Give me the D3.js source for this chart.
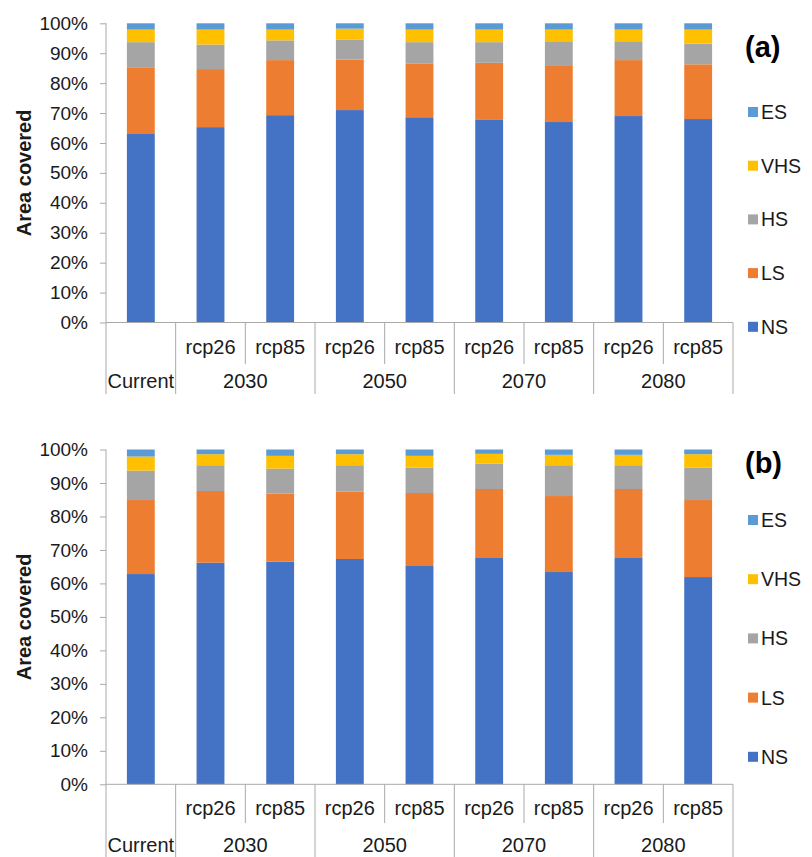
<!DOCTYPE html>
<html>
<head>
<meta charset="utf-8">
<script src="https://cdn.jsdelivr.net/npm/d3@7"></script>
<style>
  html, body { margin: 0; padding: 0; background: #fff; }
  svg { display: block; font-family: "Liberation Sans", Arial, sans-serif; }
</style>
</head>
<body>
<svg id="chart" width="812" height="857"></svg>
<script>
// ---- Data -------------------------------------------------------------
const seriesKeys   = ["NS", "LS", "HS", "VHS", "ES"];
const seriesColors = ["#4472C4", "#ED7D31", "#A5A5A5", "#FFC000", "#5B9BD5"];

// Category axis: inner scenario labels and outer period groups
const scenarioLabels = ["", "rcp26", "rcp85", "rcp26", "rcp85", "rcp26", "rcp85", "rcp26", "rcp85"];
const groupNames = ["Current", "2030", "2050", "2070", "2080"];
const groupSizes = [1, 2, 2, 2, 2];

const yTickValues = [0, 10, 20, 30, 40, 50, 60, 70, 80, 90, 100];

// Panel (a): share of area (%) per suitability class
const aNS  = [63.0, 65.3, 69.3, 71.0, 68.6, 67.9, 67.0, 69.0, 68.0];
const aLS  = [22.1, 19.4, 18.4, 16.9, 18.0, 18.9, 19.0, 18.7, 18.3];
const aHS  = [ 8.6,  8.2,  6.6,  6.7,  7.1,  6.9,  8.0,  6.3,  6.9];
const aVHS = [ 4.2,  5.0,  3.6,  3.6,  4.2,  4.2,  3.9,  3.9,  4.7];
const aES  = [ 2.1,  2.1,  2.1,  1.8,  2.1,  2.1,  2.1,  2.1,  2.1];

// Panel (b)
const bNS  = [62.8, 66.2, 66.5, 67.3, 65.2, 67.6, 63.4, 67.6, 61.9];
const bLS  = [22.1, 21.4, 20.3, 20.1, 21.8, 20.6, 22.7, 20.6, 23.0];
const bHS  = [ 8.8,  7.7,  7.5,  7.9,  7.6,  7.6,  9.2,  7.1,  9.7];
const bVHS = [ 4.2,  3.3,  3.8,  3.3,  3.5,  2.9,  3.1,  3.1,  4.0];
const bES  = [ 2.1,  1.4,  1.9,  1.4,  1.9,  1.3,  1.6,  1.6,  1.4];

// ---- Drawing ----------------------------------------------------------
const svg = d3.select("#chart");
const axisColor = "#a9a9a9";
const textColor = "#1a1a1a";

function buildRows(ns, ls, hs, vhs, es) {
  return ns.map((_, i) => ({ idx: i, NS: ns[i], LS: ls[i], HS: hs[i], VHS: vhs[i], ES: es[i] }));
}

function drawPanel(rows, cfg) {
  const g = svg.append("g");
  const x = d3.scaleBand()
    .domain(d3.range(rows.length))
    .range([cfg.left, cfg.right])
    .paddingInner(0.6)
    .paddingOuter(0.3);
  const y = d3.scaleLinear().domain([0, 100]).range([cfg.bottom, cfg.top]);

  // stacked bars
  const stacked = d3.stack().keys(seriesKeys)(rows);
  g.selectAll("g.series")
    .data(stacked)
    .join("g")
      .attr("class", "series")
      .attr("fill", (d, i) => seriesColors[i])
    .selectAll("rect")
    .data(d => d)
    .join("rect")
      .attr("x", d => x(d.data.idx))
      .attr("width", x.bandwidth())
      .attr("y", d => y(d[1]))
      .attr("height", d => y(d[0]) - y(d[1]));

  // value axis
  const yAxis = d3.axisLeft(y)
    .tickValues(yTickValues)
    .tickFormat(d => d + "%")
    .tickSize(6)
    .tickPadding(12);
  const ya = g.append("g").attr("transform", `translate(${cfg.left},0)`).call(yAxis);
  ya.select(".domain").remove();
  ya.selectAll(".tick line").attr("stroke", axisColor);
  ya.selectAll(".tick text")
    .attr("fill", textColor)
    .style("font-size", "19px")
    .style("font-family", "'Liberation Sans', Arial, sans-serif");

  // axis lines (value axis continues down through category table)
  g.append("line")
    .attr("x1", cfg.left).attr("x2", cfg.left)
    .attr("y1", y(100)).attr("y2", cfg.tableBottom)
    .attr("stroke", axisColor);
  g.append("line")
    .attr("x1", cfg.left).attr("x2", cfg.right)
    .attr("y1", y(0)).attr("y2", y(0))
    .attr("stroke", axisColor);

  // category table: dividers and labels
  const step = x.step();
  const edge = i => cfg.left + i * step;
  let start = 0;
  const groupEnds = new Set();
  groupSizes.forEach(s => { start += s; groupEnds.add(start); });
  for (let i = 1; i <= rows.length; i++) {
    const full = groupEnds.has(i);
    g.append("line")
      .attr("x1", edge(i)).attr("x2", edge(i))
      .attr("y1", y(0)).attr("y2", full ? cfg.tableBottom : cfg.innerBottom)
      .attr("stroke", axisColor);
  }
  g.selectAll("text.scen")
    .data(scenarioLabels)
    .join("text")
      .attr("class", "scen")
      .attr("x", (d, i) => x(i) + x.bandwidth() / 2)
      .attr("y", cfg.scenY)
      .attr("text-anchor", "middle")
      .attr("fill", textColor)
      .style("font-size", "20px")
      .text(d => d);
  let s0 = 0;
  groupNames.forEach((name, k) => {
    const a = edge(s0), b = edge(s0 + groupSizes[k]);
    g.append("text")
      .attr("x", (a + b) / 2)
      .attr("y", cfg.groupY)
      .attr("text-anchor", "middle")
      .attr("fill", textColor)
      .style("font-size", "20px")
      .text(name);
    s0 += groupSizes[k];
  });

  // value-axis title
  g.append("text")
    .attr("transform", `translate(${cfg.titleX},${(y(0) + y(100)) / 2}) rotate(-90)`)
    .attr("text-anchor", "middle")
    .attr("dominant-baseline", "central")
    .attr("fill", textColor)
    .style("font-size", "20px")
    .style("font-weight", "bold")
    .text("Area covered");

  // panel tag
  g.append("text")
    .attr("x", cfg.tagX).attr("y", cfg.tagY)
    .attr("fill", "#000")
    .style("font-size", "29px")
    .style("font-weight", "bold")
    .text(cfg.tag);

  // legend, listed top-down in reverse stacking order
  const legendKeys = seriesKeys.slice().reverse();
  const leg = g.selectAll("g.leg")
    .data(legendKeys)
    .join("g")
      .attr("class", "leg")
      .attr("transform", (d, i) => `translate(${cfg.legX},${cfg.legY0 + i * cfg.legStep})`);
  leg.append("rect")
    .attr("x", 0).attr("y", -5)
    .attr("width", 10).attr("height", 10)
    .attr("fill", d => seriesColors[seriesKeys.indexOf(d)]);
  leg.append("text")
    .attr("x", 13).attr("y", 0)
    .attr("dominant-baseline", "central")
    .attr("fill", textColor)
    .style("font-size", "19.5px")
    .text(d => d);
}

drawPanel(buildRows(aNS, aLS, aHS, aVHS, aES), {
  left: 106, right: 733, top: 23.3, bottom: 322.5,
  innerBottom: 364, tableBottom: 394,
  scenY: 354, groupY: 388, titleX: 24,
  tag: "(a)", tagX: 745, tagY: 57,
  legX: 748, legY0: 112, legStep: 53.7
});

drawPanel(buildRows(bNS, bLS, bHS, bVHS, bES), {
  left: 106, right: 733, top: 449.5, bottom: 784.3,
  innerBottom: 823, tableBottom: 857,
  scenY: 815, groupY: 852, titleX: 24,
  tag: "(b)", tagX: 745, tagY: 473,
  legX: 748, legY0: 520, legStep: 59.2
});
</script>
</body>
</html>
